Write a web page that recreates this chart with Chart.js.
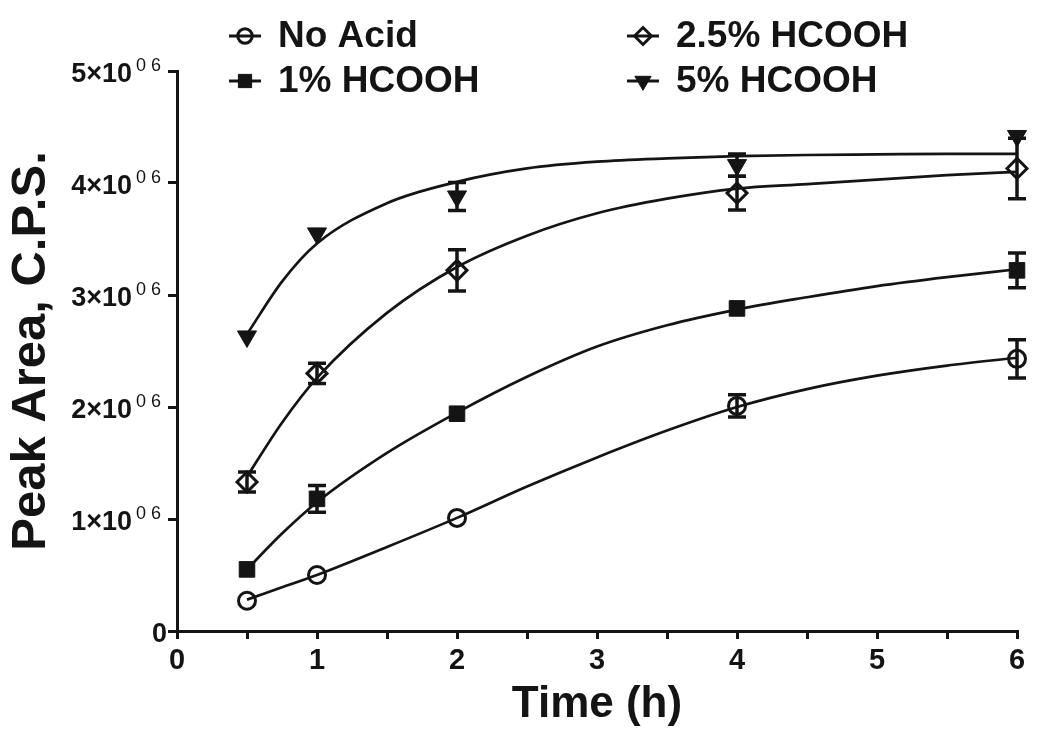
<!DOCTYPE html>
<html>
<head>
<meta charset="utf-8">
<title>Peak Area vs Time</title>
<script src="https://cdn.jsdelivr.net/npm/chart.js@4.4.0/dist/chart.umd.min.js"></script>
<style>
  html, body { margin: 0; padding: 0; background: #fff; }
  #wrap { width: 1050px; height: 744px; position: relative; }
</style>
</head>
<body>
<div id="wrap"><canvas id="peakChart"></canvas></div>
<script>
// Sampling times (h)
const timeH = [0.5, 1, 2, 4, 6];

const noAcid     = [0.27e6, 0.50e6, 1.01e6, 2.01e6, 2.43e6];
const noAcidErr  = [0, 0, 0, 0.10e6, 0.17e6];
const hcooh1     = [0.55e6, 1.18e6, 1.94e6, 2.88e6, 3.22e6];
const hcooh1Err  = [0, 0.12e6, 0, 0, 0.155e6];
const hcooh25    = [1.33e6, 2.30e6, 3.22e6, 3.91e6, 4.13e6];
const hcooh25Err = [0.09e6, 0.09e6, 0.185e6, 0.15e6, 0.27e6];
const hcooh5     = [2.63e6, 3.55e6, 3.88e6, 4.16e6, 4.42e6];
const hcooh5Err  = [0, 0, 0.125e6, 0.10e6, 0];

// Fitted curves, sampled off the figure
const fitTime    = [0.5, 0.75, 1, 1.5, 2, 2.5, 3, 3.5, 4, 4.5, 5, 5.5, 6];
const fitNoAcid  = [0.28e6, 0.39e6, 0.50e6, 0.75e6, 1.01e6, 1.29e6, 1.55e6, 1.79e6, 2.00e6, 2.16e6, 2.28e6, 2.37e6, 2.44e6];
const fit1       = [0.55e6, 0.87e6, 1.15e6, 1.59e6, 1.95e6, 2.27e6, 2.54e6, 2.73e6, 2.87e6, 2.98e6, 3.08e6, 3.16e6, 3.23e6];
const fit25      = [1.38e6, 1.86e6, 2.26e6, 2.84e6, 3.25e6, 3.53e6, 3.73e6, 3.86e6, 3.95e6, 3.99e6, 4.03e6, 4.07e6, 4.10e6];
const fit5       = [2.65e6, 3.12e6, 3.46e6, 3.82e6, 4.01e6, 4.13e6, 4.19e6, 4.22e6, 4.24e6, 4.25e6, 4.255e6, 4.26e6, 4.26e6];

// Axis ticks
const xTickValues = [0, 1, 2, 3, 4, 5, 6];
const yTickValues = [0, 1e6, 2e6, 3e6, 4e6, 5e6];
const yTickBase   = ['0', '1\u00d710', '2\u00d710', '3\u00d710', '4\u00d710', '5\u00d710'];
const yTickExp    = ['', '0 6', '0 6', '0 6', '0 6', '0 6'];

const INK = '#141414';
const SANS = "'Liberation Sans', Arial, sans-serif";
const NARROW = "'Liberation Sans Narrow', 'Arial Narrow', 'Liberation Sans', Arial, sans-serif";

const toPoints = (xs, ys) => xs.map((x, i) => ({ x: x, y: ys[i] }));

const series = [
    { label: 'No Acid',    data: noAcid,  err: noAcidErr,  fit: fitNoAcid, style: 'circle',  fill: 'transparent', radius: 8.5, bw: 3,  rot: 0 },
    { label: '1% HCOOH',   data: hcooh1,  err: hcooh1Err,  fit: fit1,      style: 'rect',    fill: INK,           radius: 11,  bw: 1,  rot: 0 },
    { label: '2.5% HCOOH', data: hcooh25, err: hcooh25Err, fit: fit25,     style: 'rectRot', fill: 'transparent', radius: 10,  bw: 3,  rot: 0 },
    { label: '5% HCOOH',   data: hcooh5,  err: hcooh5Err,  fit: fit5,      style: 'triangle',fill: INK,           radius: 11,  bw: 1,  rot: 180 }
];

const datasets = [];
series.forEach(s => {
    datasets.push({
        label: s.label + ' fit',
        data: toPoints(fitTime, s.fit),
        showLine: true,
        borderColor: INK,
        borderWidth: 2.7,
        pointRadius: 0,
        cubicInterpolationMode: 'monotone',
        fill: false,
        clip: false
    });
});
series.forEach(s => {
    datasets.push({
        label: s.label,
        data: toPoints(timeH, s.data),
        errors: s.err,
        showLine: false,
        pointStyle: s.style,
        pointRotation: s.rot,
        pointRadius: s.radius,
        pointBorderWidth: s.bw,
        pointBackgroundColor: s.fill,
        pointBorderColor: INK,
        clip: false,
        isMarker: true
    });
});

// Vertical error bars with caps, drawn through the y scale
const errorBars = {
    id: 'errorBars',
    beforeDatasetsDraw(chart) {
        const ctx = chart.ctx;
        const yScale = chart.scales.y;
        chart.data.datasets.forEach((ds, di) => {
            if (!ds.errors) return;
            const meta = chart.getDatasetMeta(di);
            ctx.save();
            ctx.strokeStyle = INK;
            ctx.lineWidth = 3.5;
            meta.data.forEach((pt, i) => {
                const e = ds.errors[i];
                if (!e) return;
                const v = ds.data[i].y;
                const yTop = yScale.getPixelForValue(v + e);
                const yBot = yScale.getPixelForValue(v - e);
                ctx.beginPath();
                ctx.moveTo(pt.x, yTop);
                ctx.lineTo(pt.x, yBot);
                ctx.moveTo(pt.x - 9, yTop);
                ctx.lineTo(pt.x + 9, yTop);
                ctx.moveTo(pt.x - 9, yBot);
                ctx.lineTo(pt.x + 9, yBot);
                ctx.stroke();
            });
            ctx.restore();
        });
    }
};

// y tick labels like "5x10^06"
const yLabels = {
    id: 'yLabels',
    afterDraw(chart) {
        const ctx = chart.ctx;
        const ys = chart.scales.y;
        ctx.save();
        ctx.fillStyle = INK;
        ctx.textBaseline = 'alphabetic';
        yTickValues.forEach((v, i) => {
            const y = ys.getPixelForValue(v);
            if (!yTickExp[i]) {
                ctx.font = 'bold 27px ' + SANS;
                ctx.textAlign = 'right';
                ctx.fillText(yTickBase[i], 167, y + 10.5);
                return;
            }
            ctx.font = '18px ' + SANS;
            ctx.textAlign = 'left';
            ctx.fillText(yTickExp[i], 136, y);
            ctx.font = 'bold 27px ' + SANS;
            ctx.textAlign = 'right';
            ctx.fillText(yTickBase[i], 132, y + 10.5);
        });
        ctx.restore();
    }
};

// Two-column legend in the top area
const cornerLegend = {
    id: 'cornerLegend',
    afterDraw(chart) {
        const ctx = chart.ctx;
        const slots = [[245, 36], [245, 81], [643, 36], [643, 81]];
        const markers = chart.data.datasets.filter(d => d.isMarker);
        ctx.save();
        markers.forEach((ds, i) => {
            const [x, y] = slots[i];
            ctx.strokeStyle = INK;
            ctx.lineWidth = 3;
            ctx.beginPath();
            ctx.moveTo(x - 16, y);
            ctx.lineTo(x + 16, y);
            ctx.stroke();
            ctx.fillStyle = ds.pointBackgroundColor;
            ctx.strokeStyle = INK;
            ctx.lineWidth = ds.pointBorderWidth;
            Chart.helpers.drawPoint(ctx, {
                pointStyle: ds.pointStyle,
                rotation: ds.pointRotation,
                radius: ds.pointRadius * 0.85,
                borderWidth: ds.pointBorderWidth
            }, x, y);
            ctx.fillStyle = INK;
            ctx.font = 'bold 37px ' + SANS;
            ctx.textAlign = 'left';
            ctx.textBaseline = 'middle';
            ctx.fillText(ds.label, x + 33, y + 1);
        });
        ctx.restore();
    }
};

const ctx = document.getElementById('peakChart').getContext('2d');
new Chart(ctx, {
    type: 'scatter',
    data: { datasets: datasets },
    plugins: [errorBars, yLabels, cornerLegend],
    options: {
        responsive: true,
        maintainAspectRatio: false,
        animation: false,
        layout: { padding: { top: 71, right: 33, left: 0, bottom: 0 } },
        plugins: {
            legend: { display: false },
            tooltip: { enabled: false }
        },
        scales: {
            x: {
                type: 'linear',
                min: 0,
                max: 6,
                afterFit: (scale) => { scale.height = 113; },
                afterBuildTicks: (scale) => {
                    const t = [];
                    for (let v = 0; v <= 6; v += 0.5) t.push({ value: v });
                    scale.ticks = t;
                },
                ticks: {
                    autoSkip: false,
                    maxRotation: 0,
                    padding: 5,
                    color: INK,
                    font: { family: NARROW, size: 29, weight: 'bold' },
                    callback: (v) => xTickValues.includes(v) ? String(v) : ''
                },
                grid: { drawOnChartArea: false, drawTicks: true, tickLength: 8, lineWidth: 3, color: INK },
                border: { display: true, width: 3, color: INK },
                title: {
                    display: true,
                    text: 'Time (h)',
                    color: INK,
                    font: { family: NARROW, size: 44, weight: 'bold', lineHeight: 1 },
                    padding: { top: 0, bottom: 17 }
                }
            },
            y: {
                min: 0,
                max: 5e6,
                afterFit: (scale) => { scale.width = 177; },
                ticks: {
                    stepSize: 1e6,
                    callback: () => ''
                },
                grid: { drawOnChartArea: false, drawTicks: true, tickLength: 9, lineWidth: 3, color: INK },
                border: { display: true, width: 3, color: INK },
                title: {
                    display: true,
                    text: 'Peak Area, C.P.S.',
                    color: INK,
                    font: { family: SANS, size: 49, weight: 'bold', lineHeight: 1 },
                    padding: { top: 7, bottom: 0 }
                }
            }
        }
    }
});
</script>
</body>
</html>
